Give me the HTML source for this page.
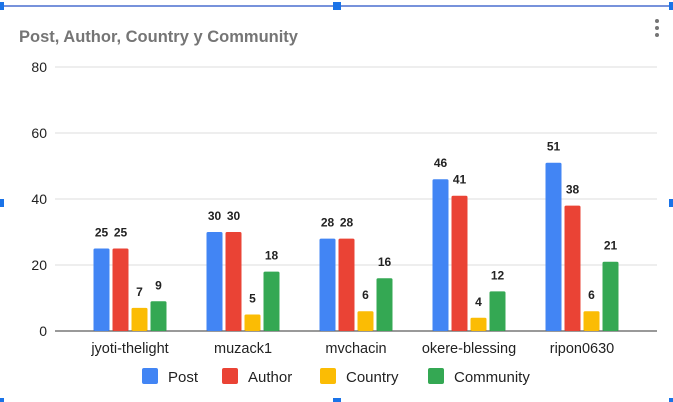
<!DOCTYPE html>
<html><head><meta charset="utf-8"><style>
body{margin:0;background:#fff;font-family:"Liberation Sans",Arial,sans-serif}
svg{display:block}
</style></head><body>
<svg width="673" height="402">
<line x1="0" y1="6" x2="673" y2="6" stroke="#4a6fcf" stroke-width="1.5"/>
<rect x="0" y="2" width="4" height="8" fill="#1a73e8"/>
<rect x="333" y="2" width="8" height="8" fill="#1a73e8"/>
<rect x="669" y="2" width="4" height="8" fill="#1a73e8"/>
<rect x="0" y="199" width="4" height="8" fill="#1a73e8"/>
<rect x="669" y="199" width="4" height="8" fill="#1a73e8"/>
<rect x="0" y="398" width="4" height="4" fill="#1a73e8"/>
<rect x="333" y="398" width="8" height="4" fill="#1a73e8"/>
<rect x="669" y="398" width="4" height="4" fill="#1a73e8"/>
<text x="19" y="42" font-size="16.5" font-weight="bold" fill="#757575">Post, Author, Country y Community</text>
<g fill="#757575"><circle cx="657" cy="21" r="2"/><circle cx="657" cy="28" r="2"/><circle cx="657" cy="35" r="2"/></g>
<g id="grid"></g><g id="bars"></g><g id="legend"></g>
</svg>
<script>
const categories=["jyoti-thelight","muzack1","mvchacin","okere-blessing","ripon0630"];
const seriesNames=["Post","Author","Country","Community"];
const post=[25,30,28,46,51];
const author=[25,30,28,41,38];
const country=[7,5,6,4,6];
const community=[9,18,16,12,21];
const yTicks=[0,20,40,60,80];
const colors=["#4285f4","#ea4335","#fbbc04","#34a853"];
const NS="http://www.w3.org/2000/svg";
const x0=55,x1=657,yBase=331,yTop=67,yMax=80;
const y=v=>yBase-(v/yMax)*(yBase-yTop);
const groupW=113;
const cx=i=>130+groupW*i;
function mk(t,a,p){const e=document.createElementNS(NS,t);for(const k in a)e.setAttribute(k,a[k]);p.appendChild(e);return e;}
const grid=document.getElementById('grid'),bars=document.getElementById('bars'),leg=document.getElementById('legend');
yTicks.forEach(t=>{
 const l=mk('line',{x1:x0,x2:x1,y1:y(t),y2:y(t),stroke:t===0?'#333':'#ddd','stroke-width':1},grid);
 
 
 const tx=mk('text',{x:47,y:y(t)+5,'text-anchor':'end','font-size':14,fill:'#222'},grid);
 tx.textContent=t;
 
 
});
const series=[post,author,country,community];
const bw=16,gap=3;
categories.forEach((c,i)=>{
 const start=cx(i)-(4*bw+3*gap)/2;
 series.forEach((s,j)=>{
  const bx=start+j*(bw+gap);
  const r=mk('rect',{x:bx,y:y(s[i]),width:bw,height:yBase-y(s[i]),fill:colors[j],rx:1.5},bars);
  
  
  const t=mk('text',{x:bx+bw/2,y:y(s[i])-12,'text-anchor':'middle','font-size':12,'font-weight':'bold',fill:'#222'},bars);
  t.textContent=s[i];
  
  
 });
 const lt=mk('text',{x:cx(i),y:353,'text-anchor':'middle','font-size':14.5,fill:'#222'},bars);
 lt.textContent=c;
 
 
});
const legX=[142,222,320,428];
seriesNames.forEach((n,j)=>{
 const r=mk('rect',{x:legX[j],y:368,width:16,height:16,rx:2,fill:colors[j]},leg);
 
 
 const t=mk('text',{x:legX[j]+26,y:382,'font-size':15,fill:'#222'},leg);
 t.textContent=n;
 
 
});
</script>
</body></html>
